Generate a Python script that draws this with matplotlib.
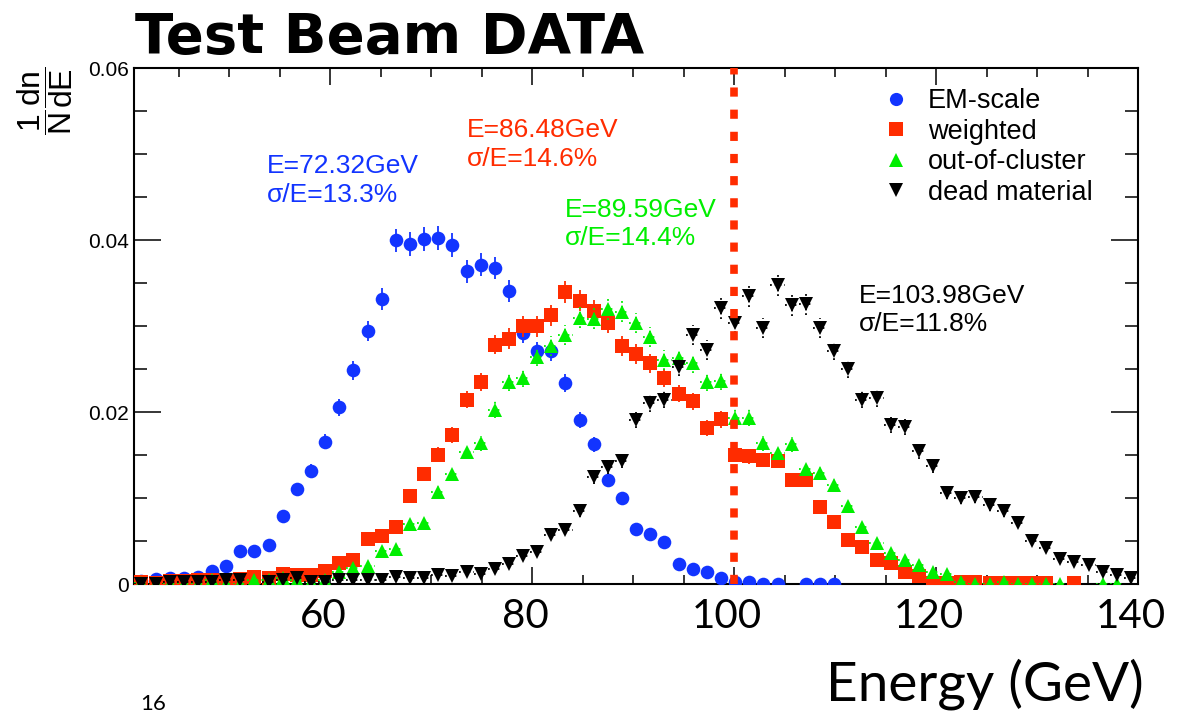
import numpy as np
import matplotlib
matplotlib.use('Agg')
import matplotlib.pyplot as plt
import matplotlib.transforms as mtransforms
from matplotlib.ticker import MultipleLocator
from matplotlib.lines import Line2D

plt.rcParams['font.family'] = ['Liberation Sans', 'DejaVu Sans']
plt.rcParams['mathtext.fontset'] = 'custom'
plt.rcParams['mathtext.rm'] = 'Liberation Sans'
plt.rcParams['mathtext.it'] = 'Liberation Sans'
plt.rcParams['mathtext.sf'] = 'Liberation Sans'

# histogram binning (GeV)
e_low = 40.6
bin_width = 1.4
n_bins = 71
n_events = 15000  # used for the statistical error bars

nan = np.nan

em_scale = [0.0004, 0.0006, 0.0007, 0.0008, 0.0009, 0.0016, 0.0022, 0.0039, 0.0039, 0.0046,
            0.0080, 0.0111, 0.0132, 0.0166, 0.0206, 0.0249, 0.0295, 0.0332, 0.0400, 0.0396,
            0.0402, 0.0403, 0.0395, 0.0364, 0.0372, 0.0368, 0.0341, 0.0293, 0.0271, 0.0271,
            0.0234, 0.0191, 0.0163, 0.0122, 0.0101, 0.0064, 0.0059, 0.0049, 0.0024, 0.0018,
            0.0015, 0.0007, 0.0003, 0.0003, 0.0001, 0.0001, nan, 0.0001, 0.0001, 0.0001,
            nan, nan, nan, nan, nan, nan, nan, nan, nan, nan,
            nan, nan, nan, nan, nan, nan, nan, nan, nan, nan, nan]

weighted = [0.0003, 0.0002, 0.0004, 0.0004, 0.0005, 0.0005, 0.0004, 0.0006, 0.0009, 0.0007,
            0.0012, 0.0011, 0.0011, 0.0016, 0.0025, 0.0028, 0.0053, 0.0056, 0.0067, 0.0103,
            0.0129, 0.0151, 0.0174, 0.0215, 0.0235, 0.0279, 0.0286, 0.0300, 0.0300, 0.0313,
            0.0340, 0.0330, 0.0318, 0.0304, 0.0277, 0.0268, 0.0257, 0.0240, 0.0222, 0.0213,
            0.0182, 0.0192, 0.0151, 0.0149, 0.0145, 0.0144, 0.0121, 0.0121, 0.0090, 0.0073,
            0.0052, 0.0044, 0.0028, 0.0025, 0.0015, 0.0010, 0.0002, 0.0002, 0.0003, 0.0003,
            0.0002, 0.0002, 0.0002, 0.0002, 0.0002, nan, 0.0002, nan, nan, nan, nan]

out_of_cluster = [0.0002, 0.0001, 0.0001, 0.0001, 0.0001, 0.0005, 0.0000, 0.0001, 0.0005, 0.0005,
                  0.0007, 0.0005, 0.0003, 0.0005, 0.0015, 0.0019, 0.0022, 0.0039, 0.0041, 0.0070,
                  0.0071, 0.0108, 0.0128, 0.0154, 0.0164, 0.0203, 0.0236, 0.0240, 0.0265, 0.0277,
                  0.0290, 0.0310, 0.0309, 0.0320, 0.0317, 0.0304, 0.0288, 0.0261, 0.0263, 0.0257,
                  0.0235, 0.0237, 0.0194, 0.0194, 0.0164, 0.0153, 0.0163, 0.0134, 0.0130, 0.0116,
                  0.0091, 0.0067, 0.0048, 0.0037, 0.0029, 0.0023, 0.0015, 0.0012, 0.0003, 0.0001,
                  0.0001, 0.0003, 0.0001, 0.0001, 0.0001, 0.0001, nan, nan, 0.0001, 0.0001, nan]

dead_material = [0.0001, 0.0001, 0.0003, 0.0003, 0.0003, 0.0003, 0.0005, 0.0005, nan, 0.0003,
                 0.0005, 0.0007, 0.0003, 0.0003, 0.0005, 0.0005, 0.0005, 0.0005, 0.0009, 0.0007,
                 0.0007, 0.0011, 0.0010, 0.0014, 0.0012, 0.0018, 0.0024, 0.0033, 0.0038, 0.0058,
                 0.0063, 0.0085, 0.0125, 0.0137, 0.0144, 0.0191, 0.0211, 0.0215, 0.0253, 0.0290,
                 0.0273, 0.0321, 0.0304, 0.0335, 0.0298, 0.0348, 0.0325, 0.0326, 0.0298, 0.0272,
                 0.0251, 0.0215, 0.0217, 0.0185, 0.0183, 0.0155, 0.0138, 0.0106, 0.0100, 0.0102,
                 0.0092, 0.0085, 0.0071, 0.0051, 0.0042, 0.0030, 0.0026, 0.0023, 0.0014, 0.0011,
                 0.0007]

labels = ['EM-scale', 'weighted', 'out-of-cluster', 'dead material']
colors = ['#1234ff', '#ff2c00', '#00ee00', '#000000']
markers = ['o', 's', '^', 'v']
mean_energy = [72.32, 86.48, 89.59, 103.98]
resolution = [13.3, 14.6, 14.4, 11.8]
text_pos = [(53.7, 0.04785), (73.5, 0.0520), (83.24, 0.04277), (112.38, 0.03277)]
beam_energy = 100

centers = e_low + bin_width * (np.arange(n_bins) + 0.5)

fig = plt.figure(figsize=(11.77, 7.12), dpi=100)
ax = fig.add_axes([0.1141, 0.1791, 0.8528, 0.7247])

series = [em_scale, weighted, out_of_cluster, dead_material]
for i, vals in enumerate(series):
    y = np.array(vals, dtype=float)
    err = np.sqrt(y / (n_events * bin_width))
    ls = ':' if i >= 2 else '-'
    xerr = bin_width / 2 if i >= 2 else None
    ms = 10 if i >= 2 else 9.8
    eb = ax.errorbar(centers, y, yerr=err, xerr=xerr, fmt=markers[i], color=colors[i],
                     ms=ms, mew=0, elinewidth=1.3, capsize=0, zorder=3 + i)
    for lc in eb[2]:
        lc.set_linestyle(ls)

ax.axvline(beam_energy, color=colors[1], lw=5.5, dashes=(1.2, 1.7), solid_capstyle='butt',
           dash_capstyle='butt', zorder=10)

for i in range(4):
    x0, y0 = text_pos[i]
    ax.text(x0, y0, 'E=%.2fGeV' % mean_energy[i], color=colors[i], fontsize=19, va='baseline')
    ax.text(x0, y0 - 0.00334, 'σ/E=%.1f%%' % resolution[i], color=colors[i], fontsize=19,
            va='baseline')

ax.set_xlim(e_low, 140)
ax.set_ylim(0, 0.06)
ax.set_xticks([60, 80, 100, 120, 140])
ax.xaxis.set_minor_locator(MultipleLocator(5))
ax.set_yticks([0, 0.02, 0.04, 0.06])
ax.set_yticklabels(['0', '0.02', '0.04', '0.06'])
ax.yaxis.set_minor_locator(MultipleLocator(0.005))
ax.tick_params(which='both', direction='in', top=True, right=True, width=1.1)
ax.tick_params(axis='x', which='major', length=12, pad=10, labelsize=29)
ax.tick_params(axis='x', which='minor', length=6.5)
ax.tick_params(axis='y', which='major', length=19.5, pad=4, labelsize=15)
ax.tick_params(axis='y', which='minor', length=9.5)
shift = mtransforms.ScaledTranslation(-7 / 100, 0, fig.dpi_scale_trans)
for lab in ax.get_xticklabels():
    lab.set_family('Lato')
    lab.set_transform(lab.get_transform() + shift)
for sp in ax.spines.values():
    sp.set_linewidth(1.5)

handles = [Line2D([], [], ls='none', marker=markers[i], color=colors[i], ms=9.5, mew=0)
           for i in range(4)]
ax.legend(handles, labels, loc='upper left', bbox_to_anchor=(882 / 1177, 1 - 88 / 712),
          bbox_transform=fig.transFigure, frameon=False, fontsize=19.5, handlelength=1.0,
          handletextpad=0.7, labelspacing=0.17, borderpad=0, borderaxespad=0)

fig.text(45 / 1177, 1 - 101 / 712, r'$\dfrac{1}{N}\dfrac{dn}{dE}$', rotation=90,
         fontsize=23, ha='center', va='center')

fig.text(135 / 1177, 1 - 53 / 712, 'Test Beam DATA', family='DejaVu Sans', weight='bold',
         fontsize=40.5, va='baseline')
fig.text(825.7 / 1177, 1 - 700 / 712, 'Energy (GeV)', family='Lato', fontsize=39.5,
         va='baseline')
fig.text(140 / 1177, 1 - 694 / 712, '16', family='Lato', fontsize=16, va='top')

fig.savefig('out.png', dpi=100)
